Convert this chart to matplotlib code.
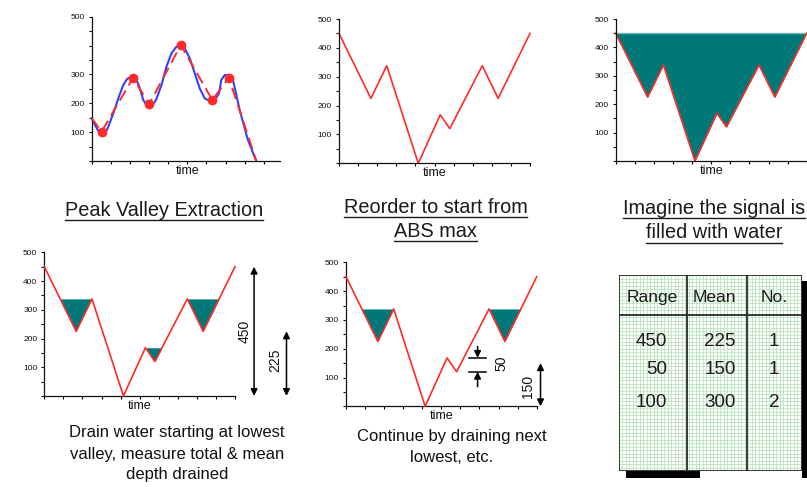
import numpy as np
import matplotlib
matplotlib.use("Agg")
import matplotlib.pyplot as plt
from matplotlib.lines import Line2D
from matplotlib.patches import Rectangle
from matplotlib.ticker import MultipleLocator

plt.rcParams['font.family'] = ['Liberation Sans', 'DejaVu Sans']

# ---------------------------------------------------------------- data
# raw load signal (smooth trace) sampled along time
raw_t = [0, 0.17, 0.35, 0.52, 0.7, 0.87, 1.13, 1.39, 1.65, 1.86, 2.09, 2.31,
         2.52, 2.7, 2.9, 3.13, 3.36, 3.65, 3.91, 4.17, 4.43, 4.66, 4.87, 5.13,
         5.39, 5.65, 5.91, 6.17, 6.43, 6.66, 6.78, 6.96, 7.18, 7.39, 7.74,
         8.17, 8.61]
raw_v = [148, 125, 104, 92, 96, 119, 165, 217, 263, 285, 292, 286,
         252, 211, 190, 190, 211, 263, 327, 373, 396, 401, 390, 356,
         304, 252, 217, 208, 211, 234, 281, 298, 298, 281, 177,
         73, 0]

# extracted peaks and valleys
pv_t = [0, 0.52, 2.17, 3.0, 4.66, 6.31, 7.17, 8.61]
pv_v = [148, 102, 289, 196, 402, 211, 289, 0]

# sequence reordered to start from the absolute maximum
ro_t = [0, 1.67, 2.5, 4.15, 5.3, 5.8, 7.5, 8.33, 10]
ro_v = [450, 225, 338, 0, 168, 120, 338, 225, 450]

# rainflow summary table
tbl_head = ["Range", "Mean", "No."]
tbl_range = ["450", "50", "100"]
tbl_mean = ["225", "150", "300"]
tbl_count = ["1", "1", "2"]

# captions
cap_peak = ["Peak Valley Extraction"]
cap_reorder = ["Reorder to start from", "ABS max"]
cap_water = ["Imagine the signal is", "filled with water"]
cap_drain = "Drain water starting at lowest\nvalley, measure total & mean\ndepth drained"
cap_next = "Continue by draining next\nlowest, etc."

# ---------------------------------------------------------------- styling
W, H = 807, 487
fig = plt.figure(figsize=(W / 100, H / 100), dpi=100)

RED = "#ff2a2a"
BLUE = "#3340ff"
TEAL = "#007878"


def px_axes(left, top, right, bottom):
    return fig.add_axes([left / W, 1 - bottom / H, (right - left) / W, (bottom - top) / H])


def style(ax, xmax, ylabels=("100", "200", "300", "400", "500")):
    ax.set_xlim(0, xmax)
    ax.set_ylim(0, 500)
    for s in ("top", "right"):
        ax.spines[s].set_visible(False)
    for s in ("left", "bottom"):
        ax.spines[s].set_linewidth(0.9)
        ax.spines[s].set_color("#111111")
    ax.xaxis.set_major_locator(MultipleLocator(1))
    ax.tick_params(axis="x", length=2.5, width=0.8, labelbottom=False)
    ax.set_yticks([100, 200, 300, 400, 500])
    ax.set_yticklabels(list(ylabels))
    ax.yaxis.set_minor_locator(MultipleLocator(50))
    ax.tick_params(axis="y", which="both", length=2.5, width=0.8, labelsize=6,
                   pad=2.5, colors="#111111")
    ax.patch.set_alpha(0)
    ax.annotate("time", xy=(5, 0), xycoords=("data", "axes fraction"),
                xytext=(0, -7), textcoords="offset points",
                ha="center", va="center", fontsize=9, color="#111111")


def fill_pocket(ax, t0, t1, level):
    xx = np.linspace(t0, t1, 600)
    yy = np.interp(xx, ro_t, ro_v)
    ax.fill_between(xx, yy, level, where=yy <= level, interpolate=True,
                    color=TEAL, lw=0, zorder=1)


def vert_arrow(ax, x, y0, y1, style_="<|-|>"):
    ax.annotate("", xy=(x, y1), xytext=(x, y0),
                arrowprops=dict(arrowstyle=style_, color="black", lw=1.1,
                                mutation_scale=10, shrinkA=0, shrinkB=0),
                annotation_clip=False)


# ---------------------------------------------------------------- panel 1
ax1 = px_axes(91.7, 16.7, 280, 161)
ax1.plot(raw_t, raw_v, color=BLUE, lw=1.5, clip_on=False, zorder=2)
ax1.plot(pv_t, pv_v, color=RED, lw=1.4, dashes=(6, 3), clip_on=False, zorder=3)
ax1.plot(pv_t[1:-1], pv_v[1:-1], "o", color=RED, ms=6, clip_on=False, zorder=4)
style(ax1, 9.85, ("100", "200", "300", "", "500"))

# ---------------------------------------------------------------- panel 2
ax2 = px_axes(339, 19, 530, 163.3)
ax2.plot(ro_t, ro_v, color=RED, lw=1.2, clip_on=False)
style(ax2, 10)

# ---------------------------------------------------------------- panel 3
ax3 = px_axes(615.7, 19, 806.7, 161)
ax3.fill_between(ro_t, ro_v, ro_v[0], color=TEAL, lw=0)
ax3.plot([ro_t[0], ro_t[-1]], [ro_v[0], ro_v[-1]], color="#6fb8b8", lw=1.0)
ax3.plot(ro_t, ro_v, color=RED, lw=1.2, clip_on=False)
style(ax3, 10)

# ---------------------------------------------------------------- panel 4
ax4 = px_axes(44.3, 252.3, 235, 396)
fill_pocket(ax4, ro_t[0], ro_t[2], ro_v[2])
fill_pocket(ax4, ro_t[4], ro_t[6], ro_v[4])
fill_pocket(ax4, ro_t[6], ro_t[8], ro_v[6])
ax4.plot(ro_t, ro_v, color=RED, lw=1.2, clip_on=False, zorder=3)
style(ax4, 10)
vert_arrow(ax4, 11.0, 0, int(tbl_range[0]))
vert_arrow(ax4, 12.7, 0, int(tbl_mean[0]))
ax4.text(10.5, 224, tbl_range[0], rotation=90, ha="center", va="center",
         fontsize=10, color="#111111", clip_on=False)
ax4.text(12.1, 125, tbl_mean[0], rotation=90, ha="center", va="center",
         fontsize=10, color="#111111", clip_on=False)

# ---------------------------------------------------------------- panel 5
ax5 = px_axes(346, 262.3, 536.7, 406.3)
fill_pocket(ax5, ro_t[0], ro_t[2], ro_v[2])
fill_pocket(ax5, ro_t[6], ro_t[8], ro_v[6])
ax5.plot(ro_t, ro_v, color=RED, lw=1.2, clip_on=False, zorder=3)
style(ax5, 10)
for lvl in (ro_v[4], ro_v[5]):
    ax5.plot([6.45, 7.35], [lvl, lvl], color="black", lw=1.1, clip_on=False)
vert_arrow(ax5, 6.9, ro_v[4] + 40, ro_v[4], "-|>")
vert_arrow(ax5, 6.9, ro_v[5] - 52, ro_v[5], "-|>")
ax5.text(8.16, 149, tbl_range[1], rotation=90, ha="center", va="center",
         fontsize=10, color="#111111", clip_on=False)
vert_arrow(ax5, 10.2, 0, int(tbl_mean[1]))
ax5.text(9.55, 68, tbl_mean[1], rotation=90, ha="center", va="center",
         fontsize=10, color="#111111", clip_on=False)

# ---------------------------------------------------------------- table
TL, TT, TR, TB = 619, 275, 801.7, 471


def fig_rect(x0, y0, x1, y1, **kw):
    fig.add_artist(Rectangle((x0 / W, 1 - y1 / H), (x1 - x0) / W, (y1 - y0) / H,
                             transform=fig.transFigure, **kw))


fig_rect(TR, TT + 6, TR + 4.8, TB + 6.5, color="black", lw=0)
fig_rect(TL + 7, TB, 700, TB + 6.5, color="black", lw=0)

axt = px_axes(TL, TT, TR, TB)
axt.set_xlim(TL, TR)
axt.set_ylim(TB, TT)
axt.axis("off")
axt.add_patch(Rectangle((TL, TT), TR - TL, TB - TT, facecolor="white", lw=0))
for gx in np.arange(TL + 3.5, TR, 3.5):
    axt.plot([gx, gx], [TT, TB], color="#b9e4b9", lw=0.6)
for gy in np.arange(TT + 3.5, TB, 3.5):
    axt.plot([TL, TR], [gy, gy], color="#b9e4b9", lw=0.6)
edge = dict(color="#2a2a2a", lw=1.3)
axt.plot([TL, TR, TR, TL, TL], [TT, TT, TB, TB, TT], **edge)
for cx in (686.7, 747.3):
    axt.plot([cx, cx], [TT, TB], **edge)
axt.plot([TL, TR], [315, 315], **edge)

head_x = [652.5, 714, 774]
for hx, txt in zip(head_x, tbl_head):
    axt.text(hx, 301.7, txt, ha="center", va="baseline", fontsize=12.5, color="#1a1a1a")
row_y = [346, 374.3, 406.7]
for ry, r, m, c in zip(row_y, tbl_range, tbl_mean, tbl_count):
    axt.text(667.3, ry, r, ha="right", va="baseline", fontsize=13.5, color="#1a1a1a")
    axt.text(735.7, ry, m, ha="right", va="baseline", fontsize=13.5, color="#1a1a1a")
    axt.text(773.8, ry, c, ha="center", va="baseline", fontsize=13.5, color="#1a1a1a")

# ---------------------------------------------------------------- captions
underlined = []
for lines, cx, bases in ((cap_peak, 164, [215.7]),
                         (cap_reorder, 435.5, [212.7, 236.7]),
                         (cap_water, 713.8, [214, 238.3])):
    for line, by in zip(lines, bases):
        t = fig.text(cx / W, 1 - by / H, line, ha="center", va="baseline",
                     fontsize=14.3, color="#1a1a1a")
        underlined.append((t, by))

fig.text(177 / W, 1 - 454 / H, cap_drain, ha="center", va="center",
         fontsize=12, color="#111111", linespacing=1.5)
fig.text(452 / W, 1 - 447 / H, cap_next, ha="center", va="center",
         fontsize=12, color="#111111", linespacing=1.55)

fig.canvas.draw()
renderer = fig.canvas.get_renderer()
for t, by in underlined:
    bb = t.get_window_extent(renderer)
    yline = 1 - (by + 4.4) / H
    fig.add_artist(Line2D([bb.x0 / W, bb.x1 / W], [yline, yline],
                          transform=fig.transFigure, color="#1a1a1a", lw=1.0))

fig.savefig("out.png", dpi=100, facecolor="white")
